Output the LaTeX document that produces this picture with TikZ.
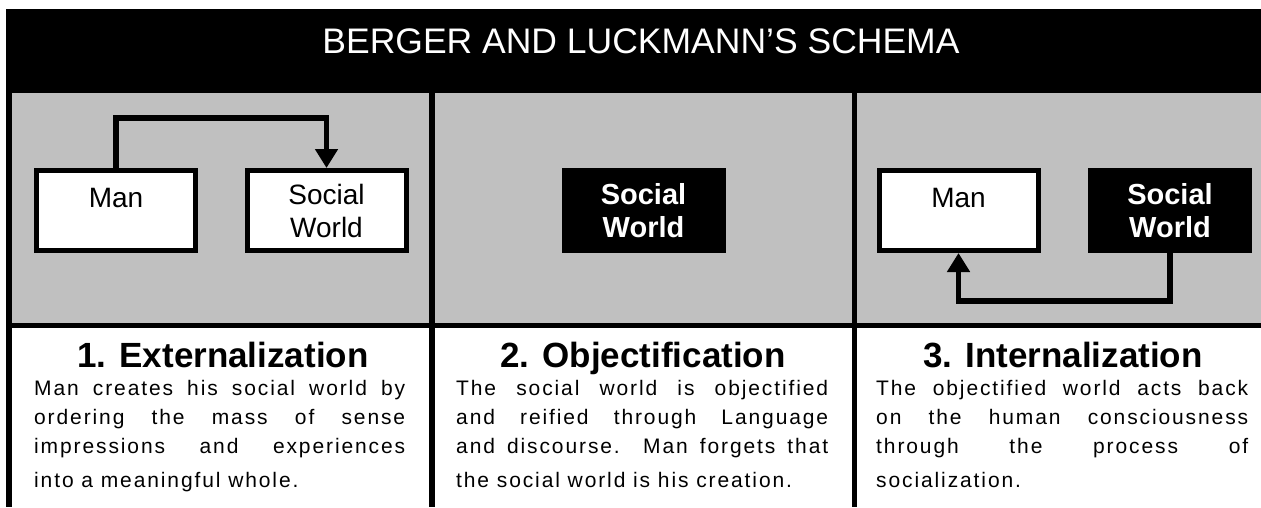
\documentclass[tikz,border=0pt]{standalone}
\usepackage{fontspec}
\setmainfont{Liberation Sans}
\newfontfamily\bodyfont[LetterSpace=9]{Liberation Sans}
\usetikzlibrary{arrows.meta}
\definecolor{panelgray}{HTML}{C0C0C0}
\tikzset{
  whitebox/.style={draw=black, fill=white, line width=5pt, minimum width=159pt, minimum height=80pt, inner sep=0pt, align=center, font=\fontsize{28}{33}\selectfont},
  blackbox/.style={fill=black, text=white, line width=0pt, outer sep=0pt, minimum width=164pt, minimum height=85pt, inner sep=0pt, align=center, font=\fontsize{29}{33}\selectfont\bfseries},
  conn/.style={line width=5.5pt, -{Triangle[width=22pt,length=19pt]}},
  steptitle/.style={anchor=base, inner sep=0pt, font=\fontsize{35}{40}\selectfont\bfseries},
  bodytext/.style={anchor=base west, inner sep=0pt, font=\fontsize{21}{29}\bodyfont}
}
\begin{document}
\begin{tikzpicture}[x=1pt, y=-1pt]
\useasboundingbox (0,0) rectangle (1261,507);
\fill[white] (0,0) rectangle (1261,507);
% frame
\fill[black] (6,9) rectangle (1261,93);
\fill[panelgray] (6,93) rectangle (1261,325);
\fill[black] (6,9) rectangle (12,507);
\fill[black] (6,323) rectangle (1261,328);
\fill[black] (429,93) rectangle (435,507);
\fill[black] (852,93) rectangle (857,507);
% header
\node[anchor=base, text=white, inner sep=0pt, font=\fontsize{35.5}{40}\selectfont] (title) at (641,53) {BERGER AND LUCKMANN'S SCHEMA};
% panel 1
\node[whitebox, text height=20pt, text depth=27pt] (man1) at (116,210.5) {Man};
\node[whitebox] (sw1) at (326.5,210.5) {Social\\World};
\draw[conn] (man1.north) -- ++(0,-50) -| (sw1.north);
% panel 2
\node[blackbox] (sw2) at (643.5,210.5) {Social\\World};
% panel 3
\node[whitebox, text height=20pt, text depth=27pt] (man3) at (958.5,210.5) {Man};
\node[blackbox] (sw3) at (1170,210.5) {Social\\World};
\draw[conn] (sw3.south) -- ++(0,48) -| (man3.south);
% step titles
\node[steptitle] (h1) at (223,367) {1. Externalization};
\node[steptitle] (h2) at (643,367) {2. Objectification};
\node[steptitle] (h3) at (1063,367) {3. Internalization};
% body texts
\node[bodytext] (b1) at (34,395) {\vtop{\baselineskip=29pt\lineskiplimit=-10pt
  \hbox to 371pt{Man creates his social world by}
  \hbox to 371pt{ordering the mass of sense}
  \hbox to 371pt{impressions and experiences}
  \vskip5pt
  \hbox{into a meaningful whole.}}};
\node[bodytext] (b2) at (456,395) {\vtop{\baselineskip=29pt\lineskiplimit=-10pt
  \hbox to 372pt{The social world is objectified}
  \hbox to 372pt{and reified through Language}
  \hbox to 372pt{and discourse. Man forgets that}
  \vskip5pt
  \hbox{the social world is his creation.}}};
\node[bodytext] (b3) at (876,395) {\vtop{\baselineskip=29pt\lineskiplimit=-10pt
  \hbox to 372pt{The objectified world acts back}
  \hbox to 372pt{on the human consciousness}
  \hbox to 372pt{through the process of}
  \vskip5pt
  \hbox{socialization.}}};
\end{tikzpicture}
\end{document}
